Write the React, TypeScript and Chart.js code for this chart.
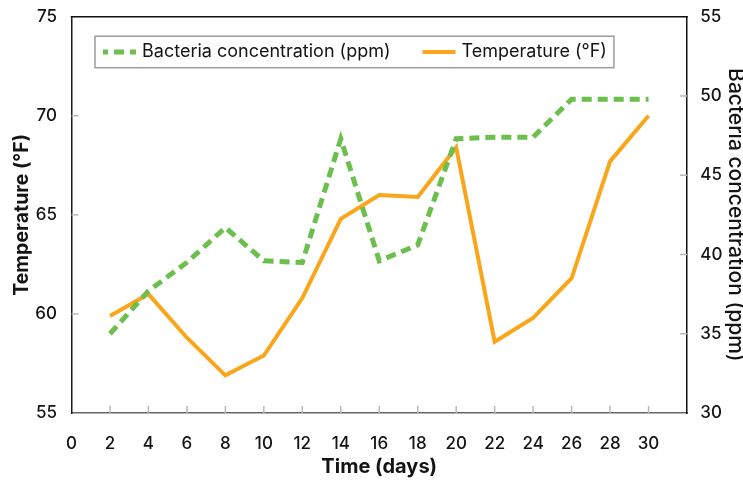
import React, { useEffect, useRef } from 'react';
import { Chart, registerables } from 'chart.js';

Chart.register(...registerables);

// ---- data ----
const days = [2, 4, 6, 8, 10, 12, 14, 16, 18, 20, 22, 24, 26, 28, 30];
const temperature = [59.9, 61.0, 58.8, 56.9, 57.9, 60.8, 64.8, 66.0, 65.9, 68.4, 58.6, 59.8, 61.8, 67.7, 70.0];
const bacteria = [35.0, 37.7, 39.5, 41.7, 39.6, 39.5, 47.3, 39.6, 40.6, 47.3, 47.4, 47.4, 49.8, 49.8, 49.8];
const seriesLabels = ['Bacteria concentration (ppm)', 'Temperature (°F)'];
const xTitle = 'Time (days)';
const yTitle = 'Temperature (°F)';
const y1Title = 'Bacteria concentration (ppm)';
const xRange = [0, 32, 2];
const yRange = [55, 75, 5];
const y1Range = [30, 55, 5];

const GREEN = '#6cbf4d';
const ORANGE = '#f9a61b';
const FONT = 'Inter, "Liberation Sans", Arial, sans-serif';
const TEXT = '#141414';

const frameAndTicks = {
  id: 'frameAndTicks',
  afterDatasetsDraw(chart: any) {
    const { ctx, chartArea: a, scales } = chart;
    const len = 7;
    ctx.save();
    ctx.strokeStyle = '#b8b8b8';
    ctx.lineWidth = 1.5;
    const line = (x1: number, y1: number, x2: number, y2: number) => {
      ctx.beginPath();
      ctx.moveTo(x1, y1);
      ctx.lineTo(x2, y2);
      ctx.stroke();
    };
    const sx = scales.x;
    sx.ticks.forEach((t: any) => {
      if (t.value <= sx.min || t.value >= sx.max) return;
      const p = sx.getPixelForValue(t.value);
      line(p, a.bottom, p, a.bottom - len);
    });
    const sy = scales.y;
    sy.ticks.forEach((t: any) => {
      if (t.value <= sy.min || t.value >= sy.max) return;
      const p = sy.getPixelForValue(t.value);
      line(a.left, p, a.left + len, p);
    });
    const sy1 = scales.y1;
    sy1.ticks.forEach((t: any) => {
      if (t.value <= sy1.min || t.value >= sy1.max) return;
      const p = sy1.getPixelForValue(t.value);
      line(a.right, p, a.right - len, p);
    });
    ctx.strokeStyle = '#111';
    ctx.lineWidth = 1.5;
    line(a.left - 0.75, a.top, a.right + 0.75, a.top);
    ctx.restore();
  },
};

const insideLegend = {
  id: 'insideLegend',
  afterDraw(chart: any) {
    const { ctx, chartArea: a } = chart;
    const ds = chart.data.datasets;
    ctx.save();
    ctx.font = `18px ${FONT}`;
    const x0 = a.left + 23.5;
    const y0 = a.top + 19.5;
    const h = 31.5;
    const padL = 8;
    const sampleW = 33;
    const gapText = 6;
    const gapItem = 32;
    const padR = 7;
    const widths = ds.map((d: any) => ctx.measureText(d.label).width);
    let total = padL;
    widths.forEach((w: number, i: number) => {
      total += sampleW + gapText + w + (i < widths.length - 1 ? gapItem : padR);
    });
    ctx.fillStyle = '#ffffff';
    ctx.fillRect(x0, y0, total, h);
    ctx.strokeStyle = '#9c9c9c';
    ctx.lineWidth = 1.5;
    ctx.strokeRect(x0, y0, total, h);
    const cy = y0 + h / 2;
    let x = x0 + padL;
    ds.forEach((d: any, i: number) => {
      ctx.save();
      ctx.strokeStyle = d.borderColor;
      ctx.lineWidth = d.borderWidth;
      ctx.setLineDash(d.borderDash || []);
      ctx.lineDashOffset = d.borderDash && d.borderDash.length ? 5 : 0;
      ctx.beginPath();
      ctx.moveTo(x, cy);
      ctx.lineTo(x + sampleW, cy);
      ctx.stroke();
      ctx.restore();
      x += sampleW + gapText;
      ctx.fillStyle = TEXT;
      ctx.textBaseline = 'middle';
      ctx.textAlign = 'left';
      ctx.fillText(d.label, x, cy);
      x += widths[i] + gapItem;
    });
    ctx.restore();
  },
};

export default function App() {
  const ref = useRef<HTMLCanvasElement | null>(null);

  useEffect(() => {
    document.body.style.margin = '0';
    const canvas = ref.current;
    if (!canvas) return;
    const chart = new Chart(canvas, {
      type: 'line',
      data: {
        datasets: [
          {
            label: seriesLabels[0],
            data: days.map((d, i) => ({ x: d, y: bacteria[i] })),
            yAxisID: 'y1',
            borderColor: GREEN,
            backgroundColor: GREEN,
            borderWidth: 5,
            borderDash: [10, 6],
            borderJoinStyle: 'miter',
            borderCapStyle: 'butt',
            pointRadius: 0,
            tension: 0,
            fill: false,
          },
          {
            label: seriesLabels[1],
            data: days.map((d, i) => ({ x: d, y: temperature[i] })),
            yAxisID: 'y',
            borderColor: ORANGE,
            backgroundColor: ORANGE,
            borderWidth: 4,
            borderJoinStyle: 'miter',
            pointRadius: 0,
            tension: 0,
            fill: false,
          },
        ],
      },
      options: {
        animation: false,
        responsive: false,
        devicePixelRatio: 1,
        layout: { padding: { top: 15, left: 0, right: 0, bottom: 0 } },
        plugins: {
          legend: { display: false },
          tooltip: { enabled: false },
        },
        scales: {
          x: {
            type: 'linear',
            min: xRange[0],
            max: xRange[1],
            grid: { display: false },
            border: { display: true, color: '#666', width: 1.5 },
            ticks: {
              stepSize: xRange[2],
              padding: 13,
              color: TEXT,
              font: { family: FONT, size: 17, weight: '500' },
              callback: (v: any) => (v >= xRange[1] ? null : String(v)),
              maxRotation: 0,
              autoSkip: false,
            },
            title: {
              display: true,
              text: xTitle,
              color: TEXT,
              font: { family: FONT, size: 20, weight: 'bold' },
              padding: { top: 0, bottom: 2 },
            },
            afterFit: (s: any) => {
              s.height = 68;
            },
          },
          y: {
            type: 'linear',
            position: 'left',
            min: yRange[0],
            max: yRange[1],
            grid: { display: false },
            border: { display: true, color: '#1a1a1a', width: 1.5 },
            ticks: {
              stepSize: yRange[2],
              padding: 6.5,
              color: TEXT,
              font: { family: FONT, size: 17, weight: '500' },
            },
            title: {
              display: true,
              text: yTitle,
              color: TEXT,
              font: { family: FONT, size: 19.5, weight: 'bold', lineHeight: 1 },
              padding: { top: 12.5, bottom: 0 },
            },
            afterFit: (s: any) => {
              s.width = 71.5;
            },
          },
          y1: {
            type: 'linear',
            position: 'right',
            min: y1Range[0],
            max: y1Range[1],
            grid: { display: false },
            border: { display: true, color: '#111', width: 1.5 },
            ticks: {
              stepSize: y1Range[2],
              padding: 5.3,
              color: TEXT,
              font: { family: FONT, size: 17, weight: '500' },
            },
            title: {
              display: true,
              text: y1Title,
              color: TEXT,
              font: { family: FONT, size: 21, weight: '500', lineHeight: 0.7 },
              padding: { top: 0, bottom: 0 },
            },
            afterFit: (s: any) => {
              s.width = 56;
            },
          },
        },
      },
      plugins: [frameAndTicks, insideLegend],
    } as any);
    return () => chart.destroy();
  }, []);

  return (
    <div style={{ width: 743, height: 481 }}>
      <canvas ref={ref} width={743} height={481} style={{ display: 'block' }} />
    </div>
  );
}
